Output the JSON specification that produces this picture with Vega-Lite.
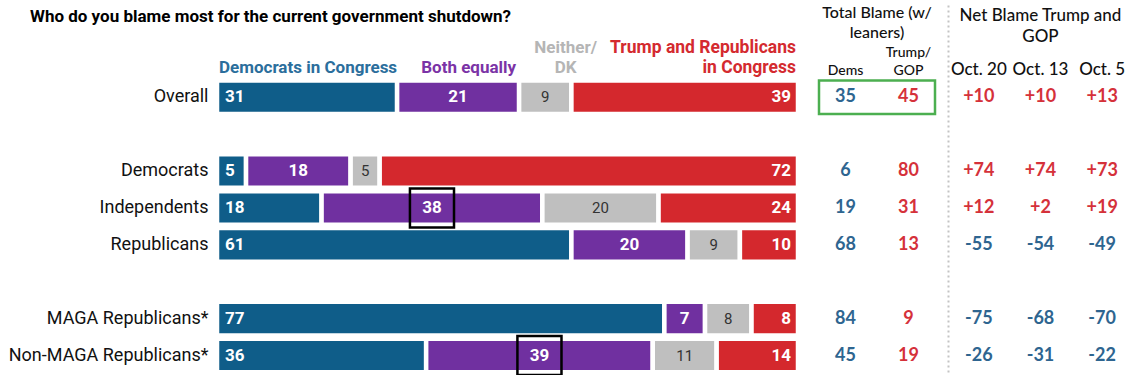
{
  "$schema": "https://vega.github.io/schema/vega-lite/v6.json",
  "padding": {"left": 8, "top": 5, "right": 0, "bottom": 0},
  "background": "white",
  "config": {
    "view": {"stroke": null},
    "locale": {"number": {"decimal": ".", "thousands": ",", "grouping": [3], "currency": ["$", ""], "minus": "-"}},
    "text": {"font": "Roboto, sans-serif"}
  },
  "datasets": {
    "bars": [
      {"group": "Overall", "cat": "Democrats in Congress", "v": 31},
      {"group": "Overall", "cat": "Both equally", "v": 21},
      {"group": "Overall", "cat": "Neither/DK", "v": 9},
      {"group": "Overall", "cat": "Trump and Republicans in Congress", "v": 39},
      {"group": "Democrats", "cat": "Democrats in Congress", "v": 5},
      {"group": "Democrats", "cat": "Both equally", "v": 18},
      {"group": "Democrats", "cat": "Neither/DK", "v": 5},
      {"group": "Democrats", "cat": "Trump and Republicans in Congress", "v": 72},
      {"group": "Independents", "cat": "Democrats in Congress", "v": 18},
      {"group": "Independents", "cat": "Both equally", "v": 38},
      {"group": "Independents", "cat": "Neither/DK", "v": 20},
      {"group": "Independents", "cat": "Trump and Republicans in Congress", "v": 24},
      {"group": "Republicans", "cat": "Democrats in Congress", "v": 61},
      {"group": "Republicans", "cat": "Both equally", "v": 20},
      {"group": "Republicans", "cat": "Neither/DK", "v": 9},
      {"group": "Republicans", "cat": "Trump and Republicans in Congress", "v": 10},
      {"group": "MAGA Republicans*", "cat": "Democrats in Congress", "v": 77},
      {"group": "MAGA Republicans*", "cat": "Both equally", "v": 7},
      {"group": "MAGA Republicans*", "cat": "Neither/DK", "v": 8},
      {"group": "MAGA Republicans*", "cat": "Trump and Republicans in Congress", "v": 8},
      {"group": "Non-MAGA Republicans*", "cat": "Democrats in Congress", "v": 36},
      {"group": "Non-MAGA Republicans*", "cat": "Both equally", "v": 39},
      {"group": "Non-MAGA Republicans*", "cat": "Neither/DK", "v": 11},
      {"group": "Non-MAGA Republicans*", "cat": "Trump and Republicans in Congress", "v": 14}
    ],
    "total": [
      {"group": "Overall", "measure": "Dems", "value": 35},
      {"group": "Overall", "measure": "Trump/GOP", "value": 45},
      {"group": "Democrats", "measure": "Dems", "value": 6},
      {"group": "Democrats", "measure": "Trump/GOP", "value": 80},
      {"group": "Independents", "measure": "Dems", "value": 19},
      {"group": "Independents", "measure": "Trump/GOP", "value": 31},
      {"group": "Republicans", "measure": "Dems", "value": 68},
      {"group": "Republicans", "measure": "Trump/GOP", "value": 13},
      {"group": "MAGA Republicans*", "measure": "Dems", "value": 84},
      {"group": "MAGA Republicans*", "measure": "Trump/GOP", "value": 9},
      {"group": "Non-MAGA Republicans*", "measure": "Dems", "value": 45},
      {"group": "Non-MAGA Republicans*", "measure": "Trump/GOP", "value": 19}
    ],
    "net": [
      {"group": "Overall", "date": "Oct. 20", "net": 10},
      {"group": "Overall", "date": "Oct. 13", "net": 10},
      {"group": "Overall", "date": "Oct. 5", "net": 13},
      {"group": "Democrats", "date": "Oct. 20", "net": 74},
      {"group": "Democrats", "date": "Oct. 13", "net": 74},
      {"group": "Democrats", "date": "Oct. 5", "net": 73},
      {"group": "Independents", "date": "Oct. 20", "net": 12},
      {"group": "Independents", "date": "Oct. 13", "net": 2},
      {"group": "Independents", "date": "Oct. 5", "net": 19},
      {"group": "Republicans", "date": "Oct. 20", "net": -55},
      {"group": "Republicans", "date": "Oct. 13", "net": -54},
      {"group": "Republicans", "date": "Oct. 5", "net": -49},
      {"group": "MAGA Republicans*", "date": "Oct. 20", "net": -75},
      {"group": "MAGA Republicans*", "date": "Oct. 13", "net": -68},
      {"group": "MAGA Republicans*", "date": "Oct. 5", "net": -70},
      {"group": "Non-MAGA Republicans*", "date": "Oct. 20", "net": -26},
      {"group": "Non-MAGA Republicans*", "date": "Oct. 13", "net": -31},
      {"group": "Non-MAGA Republicans*", "date": "Oct. 5", "net": -22}
    ]
  },
  "spacing": 16,
  "resolve": {"scale": {"y": "independent", "color": "independent"}},
  "hconcat": [
    {
      "width": 581,
      "height": 369,
      "data": {"name": "bars"},
      "transform": [{"stack": "v", "groupby": ["group"], "as": ["x0", "x1"]}],
      "encoding": {
        "y": {
          "field": "group", "type": "nominal", "title": null,
          "scale": {"domain": [" ", "  ", "Overall", "   ", "Democrats", "Independents", "Republicans", "    ", "MAGA Republicans*", "Non-MAGA Republicans*"], "paddingInner": 0.09, "paddingOuter": 0.045},
          "axis": {"domain": false, "ticks": false, "labelPadding": 9, "labelFont": "Roboto, sans-serif", "labelFontSize": 18, "labelColor": "#111", "labelLimit": 400, "maxExtent": 400}
        }
      },
      "layer": [
        {
          "mark": {"type": "bar", "stroke": "white", "strokeWidth": 4.5},
          "encoding": {
            "x": {"field": "x0", "type": "quantitative", "scale": {"domain": [0, 100], "nice": false}, "axis": null},
            "x2": {"field": "x1"},
            "color": {"field": "cat", "type": "nominal", "legend": null,
              "scale": {"domain": ["Democrats in Congress", "Both equally", "Neither/DK", "Trump and Republicans in Congress"], "range": ["#0f5d89", "#7030a0", "#bfbfbf", "#d4282d"]}}
          }
        },
        {
          "transform": [{"filter": "datum.cat == 'Democrats in Congress'"}],
          "mark": {"type": "text", "align": "left", "baseline": "middle", "dx": 8, "fontSize": 17, "fontWeight": "bold", "color": "white"},
          "encoding": {"x": {"field": "x0", "type": "quantitative"}, "text": {"field": "v", "type": "quantitative"}}
        },
        {
          "transform": [{"filter": "datum.cat == 'Trump and Republicans in Congress'"}],
          "mark": {"type": "text", "align": "right", "baseline": "middle", "dx": -7, "fontSize": 17, "fontWeight": "bold", "color": "white"},
          "encoding": {"x": {"field": "x1", "type": "quantitative"}, "text": {"field": "v", "type": "quantitative"}}
        },
        {
          "transform": [{"filter": "datum.cat == 'Both equally'"}, {"fold": ["x0", "x1"], "as": ["edge", "pos"]}],
          "mark": {"type": "text", "align": "center", "baseline": "middle", "fontSize": 17, "fontWeight": "bold", "color": "white"},
          "encoding": {"x": {"aggregate": "mean", "field": "pos", "type": "quantitative"}, "text": {"field": "v", "type": "quantitative"}, "detail": {"field": "cat"}}
        },
        {
          "transform": [{"filter": "datum.cat == 'Neither/DK'"}, {"fold": ["x0", "x1"], "as": ["edge", "pos"]}],
          "mark": {"type": "text", "align": "center", "baseline": "middle", "fontSize": 15, "color": "#333"},
          "encoding": {"x": {"aggregate": "mean", "field": "pos", "type": "quantitative"}, "text": {"field": "v", "type": "quantitative"}, "detail": {"field": "cat"}}
        },
        {
          "transform": [{"filter": "datum.cat == 'Both equally' && (datum.group == 'Independents' || datum.group == 'Non-MAGA Republicans*')"}, {"fold": ["x0", "x1"], "as": ["edge", "pos"]}],
          "mark": {"type": "point", "shape": "M-1.13,-1L1.13,-1L1.13,1L-1.13,1Z", "size": 1521, "filled": false, "stroke": "black", "strokeWidth": 2.5, "opacity": 1},
          "encoding": {"x": {"aggregate": "mean", "field": "pos", "type": "quantitative"}, "detail": {"field": "cat"}}
        },
        {
          "data": {"values": [{}]},
          "mark": {"type": "text", "text": "Who do you blame most for the current government shutdown?", "align": "left", "baseline": "alphabetic", "dx": -187, "dy": -1, "fontSize": 17, "fontWeight": "bold", "color": "#000"},
          "encoding": {"x": {"datum": 0, "type": "quantitative"}, "y": {"datum": " ", "type": "nominal"}}
        },
        {
          "data": {"values": [{}]},
          "mark": {"type": "text", "text": "Democrats in Congress", "align": "left", "baseline": "alphabetic", "dx": 2, "dy": 13, "fontSize": 17, "fontWeight": "bold", "color": "#2b6e9c"},
          "encoding": {"x": {"datum": 0, "type": "quantitative"}, "y": {"datum": "  ", "type": "nominal"}}
        },
        {
          "data": {"values": [{}]},
          "mark": {"type": "text", "text": "Both equally", "align": "right", "baseline": "alphabetic", "dx": -3, "dy": 13, "fontSize": 17, "fontWeight": "bold", "color": "#7b33a6"},
          "encoding": {"x": {"datum": 52, "type": "quantitative"}, "y": {"datum": "  ", "type": "nominal"}}
        },
        {
          "data": {"values": [{}]},
          "mark": {"type": "text", "text": ["Neither/", "DK"], "align": "center", "baseline": "alphabetic", "dy": -7, "lineHeight": 20, "fontSize": 17, "fontWeight": "bold", "color": "#b5b5b5"},
          "encoding": {"x": {"datum": 60, "type": "quantitative"}, "y": {"datum": "  ", "type": "nominal"}}
        },
        {
          "data": {"values": [{}]},
          "mark": {"type": "text", "text": ["Trump and Republicans", "in Congress"], "align": "right", "baseline": "alphabetic", "dx": -2, "dy": -7, "lineHeight": 20, "fontSize": 17.5, "fontWeight": "bold", "color": "#d42a2f"},
          "encoding": {"x": {"datum": 100, "type": "quantitative"}, "y": {"datum": "  ", "type": "nominal"}}
        }
      ]
    },
    {
      "spacing": 11,
      "resolve": {"scale": {"y": "independent", "color": "independent"}},
      "hconcat": [
        {
          "width": 116,
          "height": 369,
          "data": {"name": "total"},
          "encoding": {
            "y": {"field": "group", "type": "nominal", "axis": null,
              "scale": {"domain": [" ", "  ", "Overall", "   ", "Democrats", "Independents", "Republicans", "    ", "MAGA Republicans*", "Non-MAGA Republicans*"], "paddingInner": 0.09, "paddingOuter": 0.045}},
            "x": {"field": "measure", "type": "nominal", "axis": null, "scale": {"type": "point", "domain": ["Dems", "Trump/GOP"], "padding": 0.42}}
          },
          "layer": [
            {
              "transform": [{"filter": "datum.group == 'Overall' && datum.measure == 'Dems'"}],
              "mark": {"type": "rect", "fill": "transparent", "stroke": "#4caf50", "strokeWidth": 2.5},
              "encoding": {"x": null}
            },
            {
              "mark": {"type": "text", "baseline": "middle", "fontSize": 18, "fontWeight": "bold", "font": "Lato, Roboto, sans-serif"},
              "encoding": {
                "text": {"field": "value", "type": "quantitative"},
                "color": {"condition": {"test": "datum.measure == 'Dems'", "value": "#2e6590"}, "value": "#d5313a"}
              }
            },
            {
              "data": {"values": [{}]},
              "mark": {"type": "text", "text": ["Total Blame (w/", "leaners)"], "align": "center", "baseline": "alphabetic", "dy": -5, "lineHeight": 20, "fontSize": 16, "font": "Lato, Roboto, sans-serif", "fontWeight": 500, "color": "#111"},
              "encoding": {"x": null, "y": {"datum": " ", "type": "nominal"}}
            },
            {
              "data": {"values": [{}]},
              "mark": {"type": "text", "text": "Dems", "align": "center", "baseline": "alphabetic", "dy": 15, "fontSize": 14, "font": "Lato, Roboto, sans-serif", "fontWeight": 500, "color": "#111"},
              "encoding": {"x": {"datum": "Dems", "type": "nominal"}, "y": {"datum": "  ", "type": "nominal"}}
            },
            {
              "data": {"values": [{}]},
              "mark": {"type": "text", "text": ["Trump/", "GOP"], "align": "center", "baseline": "alphabetic", "dy": -3, "lineHeight": 18, "fontSize": 14, "font": "Lato, Roboto, sans-serif", "fontWeight": 500, "color": "#111"},
              "encoding": {"x": {"datum": "Trump/GOP", "type": "nominal"}, "y": {"datum": "  ", "type": "nominal"}}
            }
          ]
        },
        {
          "width": 185,
          "height": 369,
          "data": {"name": "net"},
          "encoding": {
            "y": {"field": "group", "type": "nominal",
              "scale": {"domain": [" ", "  ", "Overall", "   ", "Democrats", "Independents", "Republicans", "    ", "MAGA Republicans*", "Non-MAGA Republicans*"], "paddingInner": 0.09, "paddingOuter": 0.045},
              "axis": {"title": null, "labels": false, "ticks": false, "domain": true, "domainColor": "#c4c4c4", "domainWidth": 2, "domainDash": [2, 3], "minExtent": 0, "grid": false}},
            "x": {"field": "date", "type": "nominal", "axis": null, "scale": {"type": "point", "domain": ["Oct. 20", "Oct. 13", "Oct. 5"], "padding": 0.5}}
          },
          "layer": [
            {
              "mark": {"type": "text", "baseline": "middle", "fontSize": 18, "fontWeight": "bold", "font": "Lato, Roboto, sans-serif"},
              "encoding": {
                "text": {"field": "net", "type": "quantitative", "format": "+d"},
                "color": {"condition": {"test": "datum.net > 0", "value": "#d5313a"}, "value": "#2e6590"}
              }
            },
            {
              "transform": [{"filter": "datum.group == 'Overall'"}],
              "mark": {"type": "text", "baseline": "alphabetic", "dy": 15, "fontSize": 17, "font": "Lato, Roboto, sans-serif", "fontWeight": 500, "color": "#111"},
              "encoding": {"text": {"field": "date", "type": "nominal"}, "y": {"datum": "  ", "type": "nominal"}}
            },
            {
              "data": {"values": [{}]},
              "mark": {"type": "text", "text": ["Net Blame Trump and", "GOP"], "align": "center", "baseline": "alphabetic", "dy": -2, "lineHeight": 21, "fontSize": 17, "font": "Lato, Roboto, sans-serif", "fontWeight": 500, "color": "#111"},
              "encoding": {"x": null, "y": {"datum": " ", "type": "nominal"}}
            }
          ]
        }
      ]
    }
  ]
}
